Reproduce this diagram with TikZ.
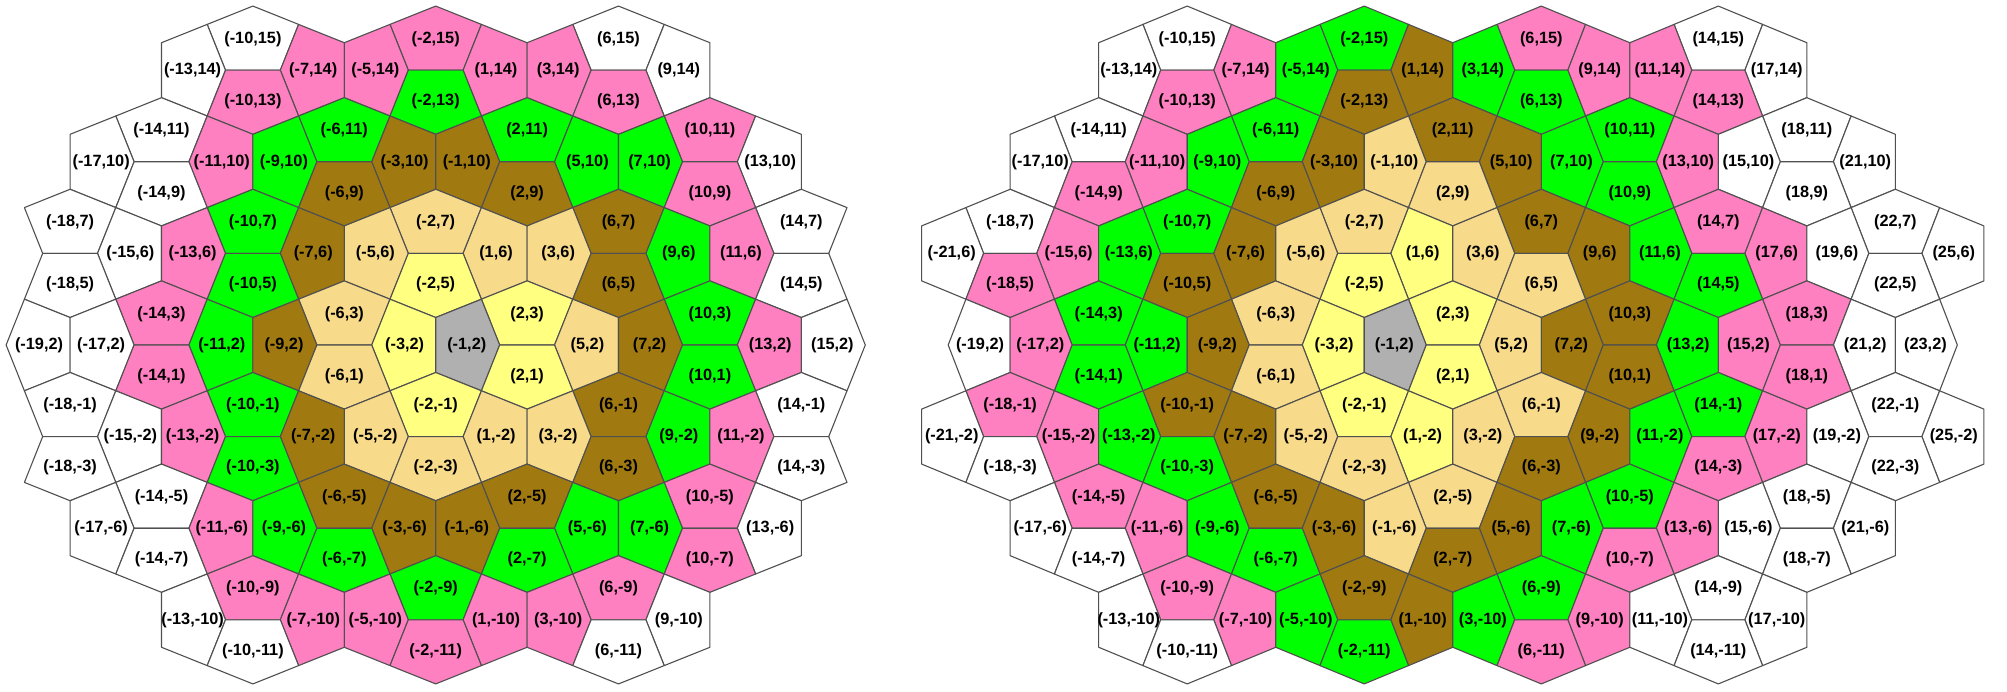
\documentclass[tikz,border=0pt]{standalone}
\usepackage{fontspec}
\setmainfont{Liberation Sans}
\definecolor{cW}{HTML}{FFFFFF}
\definecolor{cP}{HTML}{FF80C0}
\definecolor{cG}{HTML}{00FF00}
\definecolor{cB}{HTML}{A07A10}
\definecolor{cT}{HTML}{F8DB8A}
\definecolor{cY}{HTML}{FFFF80}
\definecolor{cX}{HTML}{B0B0B0}
\definecolor{edgecol}{HTML}{505050}
\tikzset{
  pentline/.style={draw=edgecol, line width=1.1pt, line join=round},
  lab/.style={font=\bfseries\fontsize{16.3}{18}\selectfont, inner sep=0pt, text=black}
}
\newcommand{\pentA}{1.2}
\newcommand{\pentD}{2.8}
\newcommand{\pentagon}[4]{%
  \pgfmathtruncatemacro{\pentpar}{Mod(#2,2)}%
  \ifnum\pentpar=0
    \pgfmathtruncatemacro{\pentm}{Mod(#1,4)}%
    \ifnum\pentm=3 \def\pents{1}\else\def\pents{-1}\fi
    \pgfmathsetmacro{\pentcx}{#1-(\pents)}%
    \pgfmathsetmacro{\pentxa}{\pentcx+2*(\pents)}%
    \pgfmathsetmacro{\pentxb}{\pentcx+\pentD*(\pents)}%
    \pgfmathsetmacro{\pentxl}{\pentcx+1.36*(\pents)}%
    \filldraw[pentline,fill=#3] (\pentcx,#2+\pentA) -- (\pentxa,#2+2) -- (\pentxb,#2) -- (\pentxa,#2-2) -- (\pentcx,#2-\pentA) -- cycle;
    \node[lab] (#4#1x#2) at (\pentxl,#2) {(#1,#2)};
  \else
    \pgfmathtruncatemacro{\pentm}{Mod(#2,4)}%
    \ifnum\pentm=3 \def\pentt{1}\else\def\pentt{-1}\fi
    \pgfmathsetmacro{\pentcy}{#2-(\pentt)}%
    \pgfmathsetmacro{\pentya}{\pentcy+2*(\pentt)}%
    \pgfmathsetmacro{\pentyb}{\pentcy+\pentD*(\pentt)}%
    \pgfmathsetmacro{\pentyl}{\pentcy+1.36*(\pentt)}%
    \filldraw[pentline,fill=#3] (#1-\pentA,\pentcy) -- (#1-2,\pentya) -- (#1,\pentyb) -- (#1+2,\pentya) -- (#1+\pentA,\pentcy) -- cycle;
    \node[lab] (#4#1x#2) at (#1,\pentyl) {(#1,#2)};
  \fi}
\begin{document}
\begin{tikzpicture}
\fill[white] (0,0) rectangle (2007pt,-692pt);
\useasboundingbox (0,0) rectangle (2007pt,-692pt);
% left tiling
\begin{scope}[shift={(481.4pt,-390.8pt)}, x=22.85pt, y=22.9pt]
\foreach \u/\v/\c in {
 -10/15/W, -2/15/P, 6/15/W,
 -13/14/W, -7/14/P, -5/14/P, 1/14/P, 3/14/P, 9/14/W,
 -10/13/P, -2/13/G, 6/13/P,
 -14/11/W, -6/11/G, 2/11/G, 10/11/P,
 -17/10/W, -11/10/P, -9/10/G, -3/10/B, -1/10/B, 5/10/G, 7/10/G, 13/10/W,
 -14/9/W, -6/9/B, 2/9/B, 10/9/P,
 -18/7/W, -10/7/G, -2/7/T, 6/7/B, 14/7/W,
 -15/6/W, -13/6/P, -7/6/B, -5/6/T, 1/6/T, 3/6/T, 9/6/G, 11/6/P,
 -18/5/W, -10/5/G, -2/5/Y, 6/5/B, 14/5/W,
 -14/3/P, -6/3/T, 2/3/Y, 10/3/G,
 -19/2/W, -17/2/W, -11/2/G, -9/2/B, -3/2/Y, -1/2/X, 5/2/T, 7/2/B, 13/2/P, 15/2/W,
 -14/1/P, -6/1/T, 2/1/Y, 10/1/G,
 -18/-1/W, -10/-1/G, -2/-1/Y, 6/-1/B, 14/-1/W,
 -15/-2/W, -13/-2/P, -7/-2/B, -5/-2/T, 1/-2/T, 3/-2/T, 9/-2/G, 11/-2/P,
 -18/-3/W, -10/-3/G, -2/-3/T, 6/-3/B, 14/-3/W,
 -14/-5/W, -6/-5/B, 2/-5/B, 10/-5/P,
 -17/-6/W, -11/-6/P, -9/-6/G, -3/-6/B, -1/-6/B, 5/-6/G, 7/-6/G, 13/-6/W,
 -14/-7/W, -6/-7/G, 2/-7/G, 10/-7/P,
 -10/-9/P, -2/-9/G, 6/-9/P,
 -13/-10/W, -7/-10/P, -5/-10/P, 1/-10/P, 3/-10/P, 9/-10/W,
 -10/-11/W, -2/-11/P, 6/-11/W}
{\edef\pentcall{\noexpand\pentagon{\u}{\v}{c\c}{L}}\pentcall}
\end{scope}
% right tiling
\begin{scope}[shift={(1408.5pt,-390.8pt)}, x=22.13pt, y=22.9pt]
\foreach \u/\v/\c in {
 -10/15/W, -2/15/G, 6/15/P, 14/15/W,
 -13/14/W, -7/14/P, -5/14/G, 1/14/B, 3/14/G, 9/14/P, 11/14/P, 17/14/W,
 -10/13/P, -2/13/B, 6/13/G, 14/13/P,
 -14/11/W, -6/11/G, 2/11/B, 10/11/G, 18/11/W,
 -17/10/W, -11/10/P, -9/10/G, -3/10/B, -1/10/T, 5/10/B, 7/10/G, 13/10/P, 15/10/W, 21/10/W,
 -14/9/P, -6/9/B, 2/9/T, 10/9/G, 18/9/W,
 -18/7/W, -10/7/G, -2/7/T, 6/7/B, 14/7/P, 22/7/W,
 -21/6/W, -15/6/P, -13/6/G, -7/6/B, -5/6/T, 1/6/Y, 3/6/T, 9/6/B, 11/6/G, 17/6/P, 19/6/W, 25/6/W,
 -18/5/P, -10/5/B, -2/5/Y, 6/5/T, 14/5/G, 22/5/W,
 -14/3/G, -6/3/T, 2/3/Y, 10/3/B, 18/3/P,
 -19/2/W, -17/2/P, -11/2/G, -9/2/B, -3/2/Y, -1/2/X, 5/2/T, 7/2/B, 13/2/G, 15/2/P, 21/2/W, 23/2/W,
 -14/1/G, -6/1/T, 2/1/Y, 10/1/B, 18/1/P,
 -18/-1/P, -10/-1/B, -2/-1/Y, 6/-1/T, 14/-1/G, 22/-1/W,
 -21/-2/W, -15/-2/P, -13/-2/G, -7/-2/B, -5/-2/T, 1/-2/Y, 3/-2/T, 9/-2/B, 11/-2/G, 17/-2/P, 19/-2/W, 25/-2/W,
 -18/-3/W, -10/-3/G, -2/-3/T, 6/-3/B, 14/-3/P, 22/-3/W,
 -14/-5/P, -6/-5/B, 2/-5/T, 10/-5/G, 18/-5/W,
 -17/-6/W, -11/-6/P, -9/-6/G, -3/-6/B, -1/-6/T, 5/-6/B, 7/-6/G, 13/-6/P, 15/-6/W, 21/-6/W,
 -14/-7/W, -6/-7/G, 2/-7/B, 10/-7/P, 18/-7/W,
 -10/-9/P, -2/-9/B, 6/-9/G, 14/-9/W,
 -13/-10/W, -7/-10/P, -5/-10/G, 1/-10/B, 3/-10/G, 9/-10/P, 11/-10/W, 17/-10/W,
 -10/-11/W, -2/-11/G, 6/-11/P, 14/-11/W}
{\edef\pentcall{\noexpand\pentagon{\u}{\v}{c\c}{R}}\pentcall}
\end{scope}
\end{tikzpicture}
\end{document}
